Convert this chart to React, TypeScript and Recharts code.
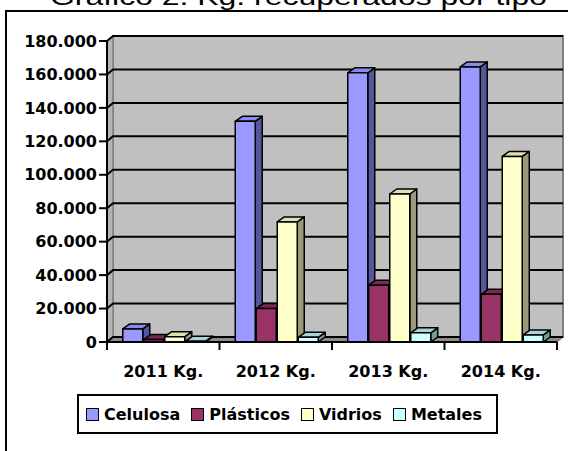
import React from 'react';
import { BarChart, Bar, XAxis, YAxis, CartesianGrid, Legend } from 'recharts';

const categories = ['2011 Kg.', '2012 Kg.', '2013 Kg.', '2014 Kg.'];
const celulosa = [7800, 132000, 161000, 164500];
const plasticos = [1500, 20000, 34000, 28500];
const vidrios = [3200, 71800, 88500, 111000];
const metales = [500, 2800, 5500, 4200];
const yTicks = [0, 20000, 40000, 60000, 80000, 100000, 120000, 140000, 160000, 180000];

const seriesNames = ['Celulosa', 'Plásticos', 'Vidrios', 'Metales'];
const seriesKeys = ['celulosa', 'plasticos', 'vidrios', 'metales'];
const frontColors = ['#9999FF', '#993366', '#FFFFCC', '#CCFFFF'];
const topColors = ['#8A8AE8', '#7A2952', '#E0E0B4', '#A8D6D6'];
const sideColors = ['#56569A', '#5A1E3C', '#9A9A7A', '#739999'];

const data = categories.map((cat, i) => ({
  cat,
  celulosa: celulosa[i],
  plasticos: plasticos[i],
  vidrios: vidrios[i],
  metales: metales[i]
}));

// layout
const W = 568;
const H = 451;
const PLOT_LEFT = 107;
const PLOT_TOP = 41;
const PLOT_RIGHT = 557;
const PLOT_BOTTOM = 342;
const DX = 6;
const DY = 5;
const BAR_DX = 7;
const BAR_DY = 5;
const FONT = '"DejaVu Sans", sans-serif';

const fmt = (v: number) => String(v).replace(/\B(?=(\d{3})+(?!\d))/g, '.');

const Bar3D = (props: any) => {
  const { x, y, width, height, fill, top, side } = props;
  if (x == null || y == null) return null;
  const h = Math.max(height, 0);
  return (
    <g stroke="#000" strokeWidth={1.5} strokeLinejoin="round">
      <polygon
        points={`${x + width},${y} ${x + width + BAR_DX},${y - BAR_DY} ${x + width + BAR_DX},${y + h - BAR_DY} ${x + width},${y + h}`}
        fill={side}
      />
      <polygon
        points={`${x},${y} ${x + BAR_DX},${y - BAR_DY} ${x + width + BAR_DX},${y - BAR_DY} ${x + width},${y}`}
        fill={top}
      />
      <rect x={x} y={y} width={width} height={h} fill={fill} />
    </g>
  );
};

const wallLine = (p: any) => {
  const key = `w-${p.index ?? p.y1}`;
  if (Math.abs(p.y1 - PLOT_BOTTOM) > 1) return <g key={key} />;
  const L = p.x1;
  const R = p.x2;
  return (
    <g key={key}>
      <rect
        x={L + DX}
        y={PLOT_TOP - DY}
        width={R - L}
        height={PLOT_BOTTOM - PLOT_TOP}
        fill="#C0C0C0"
        stroke="#808080"
        strokeWidth={2}
      />
      <polygon
        points={`${L},${PLOT_TOP} ${L + DX},${PLOT_TOP - DY} ${L + DX},${PLOT_BOTTOM - DY} ${L},${PLOT_BOTTOM}`}
        fill="#B4B4B4"
        stroke="#808080"
        strokeWidth={1.5}
      />
      <polygon
        points={`${L},${PLOT_BOTTOM} ${L + DX},${PLOT_BOTTOM - DY} ${R + DX},${PLOT_BOTTOM - DY} ${R},${PLOT_BOTTOM}`}
        fill="#8C8C8C"
        stroke="#606060"
        strokeWidth={1}
      />
    </g>
  );
};

const gridLine = (p: any) => {
  const key = `g-${p.index ?? p.y1}`;
  return (
    <polyline
      key={key}
      points={`${p.x1},${p.y1} ${p.x1 + DX},${p.y1 - DY} ${p.x2 + DX},${p.y1 - DY}`}
      fill="none"
      stroke="#000"
      strokeWidth={2}
    />
  );
};

const XTick = (props: any) => {
  const { x, payload, index } = props;
  const half = payload?.offset || (PLOT_RIGHT - PLOT_LEFT) / categories.length / 2;
  return (
    <g>
      <line x1={x - half} x2={x - half} y1={PLOT_BOTTOM} y2={PLOT_BOTTOM + 8} stroke="#000" strokeWidth={2} />
      {index === categories.length - 1 && (
        <line x1={x + half} x2={x + half} y1={PLOT_BOTTOM} y2={PLOT_BOTTOM + 8} stroke="#000" strokeWidth={2} />
      )}
      <text x={x} y={PLOT_BOTTOM + 35} textAnchor="middle" fontFamily={FONT} fontWeight={700} fontSize={16} fill="#000">
        {payload.value}
      </text>
    </g>
  );
};

const LegendBox = () => (
  <div
    style={{
      boxSizing: 'border-box',
      height: 40,
      width: 421,
      border: '2px solid #000',
      background: '#fff',
      display: 'flex',
      alignItems: 'center',
      paddingLeft: 7,
      gap: 11,
      fontFamily: FONT,
      fontWeight: 700,
      fontSize: 16,
      color: '#000'
    }}
  >
    {seriesNames.map((name, i) => (
      <div key={name} style={{ display: 'flex', alignItems: 'center', gap: 5 }}>
        <span
          style={{
            boxSizing: 'border-box',
            display: 'inline-block',
            width: 13,
            height: 13,
            border: '1.5px solid #000',
            background: frontColors[i]
          }}
        />
        <span>{name}</span>
      </div>
    ))}
  </div>
);

export default function App() {
  return (
    <div style={{ position: 'absolute', left: 0, top: 0, width: W, height: H, overflow: 'hidden', background: '#fff' }}>
      <div
        style={{
          position: 'absolute',
          left: 5,
          top: 10,
          width: 620,
          height: 520,
          border: '2px solid #000'
        }}
      />
      <svg style={{ position: 'absolute', left: 0, top: 0 }} width={W} height={20}>
        <text
          x={50}
          y={5}
          textLength={497}
          lengthAdjust="spacingAndGlyphs"
          fontFamily='"Liberation Sans", Arial, sans-serif'
          fontSize={24}
          fill="#000"
        >
          Gráfico 2. Kg. recuperados por tipo
        </text>
      </svg>
      <div style={{ position: 'absolute', left: 0, top: 0 }}>
        <BarChart
          width={W}
          height={H}
          data={data}
          margin={{ top: PLOT_TOP, right: W - PLOT_RIGHT, left: 0, bottom: 17 }}
          barGap={1}
          barCategoryGap="14%"
        >
          <CartesianGrid horizontal={wallLine} vertical={false} stroke="none" />
          <CartesianGrid horizontal={gridLine} vertical={false} />
          <XAxis
            dataKey="cat"
            height={52}
            interval={0}
            tickLine={false}
            axisLine={{ stroke: '#000', strokeWidth: 2 }}
            tick={<XTick />}
          />
          <YAxis
            width={PLOT_LEFT}
            domain={[0, 180000]}
            ticks={yTicks}
            interval={0}
            tickFormatter={fmt}
            tickSize={8}
            tickMargin={2}
            tickLine={{ stroke: '#000', strokeWidth: 2 }}
            axisLine={{ stroke: '#000', strokeWidth: 2 }}
            tick={{ fill: '#000', fontSize: 16, fontWeight: 700, fontFamily: FONT }}
          />
          <Legend
            verticalAlign="bottom"
            content={() => <LegendBox />}
            wrapperStyle={{ left: 77, bottom: 17, width: 421, height: 40 }}
          />
          {seriesKeys.map((k, i) => (
            <Bar
              key={k}
              dataKey={k}
              name={seriesNames[i]}
              fill={frontColors[i]}
              isAnimationActive={false}
              shape={(p: any) => <Bar3D {...p} top={topColors[i]} side={sideColors[i]} />}
            />
          ))}
        </BarChart>
      </div>
    </div>
  );
}
